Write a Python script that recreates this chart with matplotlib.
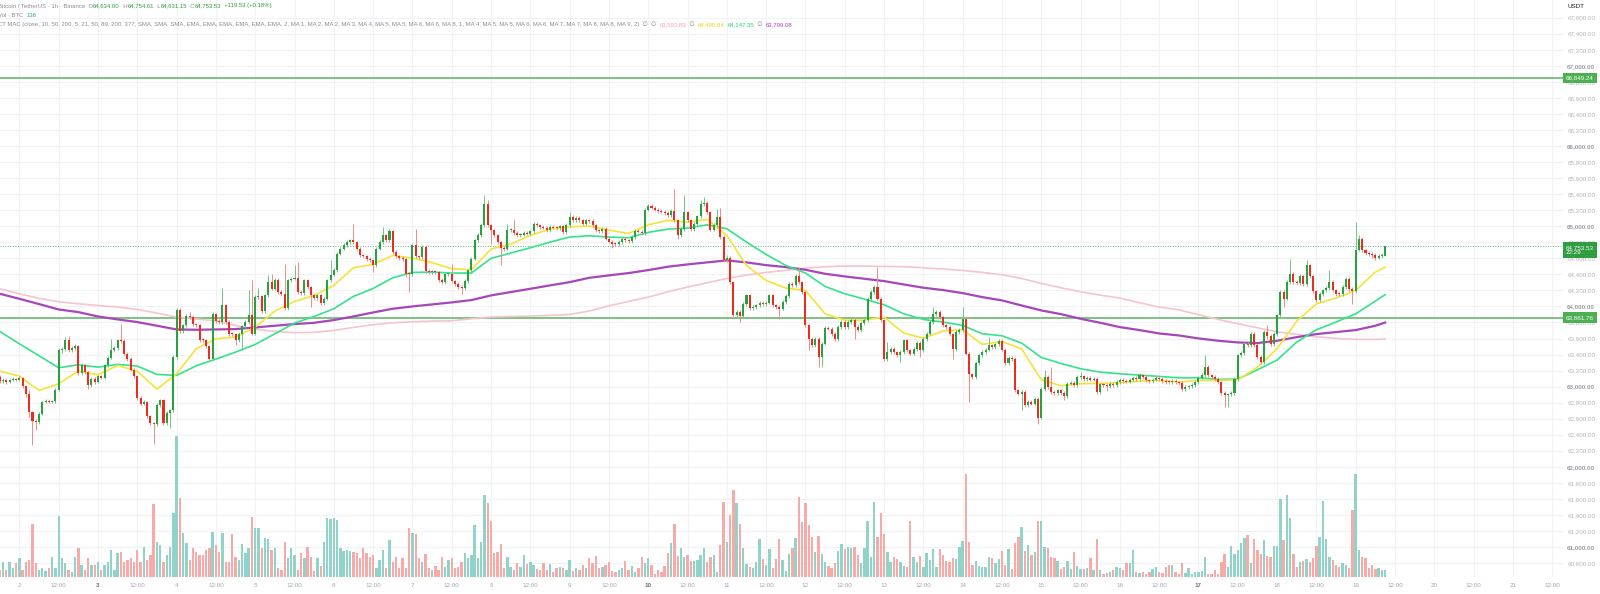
import matplotlib
matplotlib.use("Agg")
import matplotlib.pyplot as plt
import matplotlib.transforms as mtransforms
import numpy as np

plt.rcParams['font.family'] = ['Liberation Sans', 'DejaVu Sans']

# BTC/USDT 1h, hours counted from the 2nd 00:00 (first candle = 1st 18:00)
first_hour = -6
first_open = 63119

close = [
    63069, 63085, 63052, 63077, 63094, 63081,
    63110, 63002, 62903, 62682, 62570, 62558, 62661, 62803, 62824, 62807, 62815, 62961,
    63451, 63468, 63576, 63451, 63484, 63501, 63169, 63264, 63181, 63015, 63098, 63056,
    63127, 63110, 63264, 63360, 63451, 63480, 63576, 63568, 63410, 63347, 63210, 63127,
    62857, 62786, 62807, 62628, 62545, 62532, 62765, 62828, 62545, 62670, 62703, 63368,
    63958, 63692, 63763, 63875, 63867, 63775, 63763, 63584, 63576, 63501, 63347, 63900,
    63817, 63805, 64012, 63805, 63659, 63651, 63576, 63659, 63750, 63805, 63888, 63659,
    64116, 64125, 63942, 64137, 64303, 64220, 64333, 64179, 64158, 63983, 64324, 64345,
    64357, 64179, 64166, 64324, 64241, 64137, 64108, 64137, 64042, 64096, 64324, 64395,
    64457, 64657, 64719, 64761, 64802, 64823, 64802, 64719, 64636, 64623, 64594, 64574,
    64511, 64719, 64802, 64885, 64823, 64939, 64678, 64623, 64607, 64590, 64407, 64399,
    64761, 64623, 64615, 64740, 64441, 64424, 64432, 64424, 64333, 64303, 64399, 64407,
    64312, 64283, 64241, 64233, 64316, 64449, 64594, 64823, 64885, 65010, 65280, 65010,
    64948, 64885, 64802, 64732, 64719, 64948, 64956, 64914, 64885, 64894, 64914, 64906,
    64935, 65031, 65010, 64989, 64981, 64948, 64989, 64981, 64973, 64998, 64927, 65010,
    65114, 65072, 65106, 65072, 65031, 65072, 65064, 65010, 64948, 64939, 64964, 64844,
    64806, 64781, 64773, 64802, 64844, 64823, 64811, 64865, 64939, 64931, 64914, 65205,
    65255, 65230, 65205, 65193, 65180, 65164, 65135, 65189, 65072, 64885, 64964, 65172,
    65072, 64969, 65031, 65122, 65280, 65293, 65176, 64956, 65010, 65114, 64865, 64574,
    64607, 64303, 63888, 63929, 63875, 64033, 64137, 63983, 63992, 64012, 64042, 64033,
    64046, 64137, 64012, 63992, 63971, 64054, 64125, 64283, 64262, 64374, 64303, 64179,
    63763, 63597, 63514, 63597, 63368, 63534, 63734, 63721, 63659, 63597, 63742, 63805,
    63742, 63805, 63834, 63742, 63701, 63792, 63825, 64095, 64179, 64241, 64095, 63825,
    63347, 63430, 63472, 63430, 63389, 63430, 63576, 63451, 63410, 63472, 63543, 63451,
    63597, 63659, 63805, 63908, 63929, 63867, 63763, 63742, 63651, 63472, 63680, 63701,
    63846, 63410, 63152, 63119, 63293, 63389, 63430, 63460, 63514, 63493, 63526, 63568,
    63460, 63293, 63360, 63347, 62952, 62911, 62932, 62765, 62807, 62786, 62848, 62611,
    62973, 63119, 62994, 62932, 62919, 62952, 62919, 62878, 63036, 63044, 63015, 63119,
    63127, 63098, 63110, 63085, 63098, 62932, 63027, 63015, 63002, 63036, 63015, 63056,
    63085, 63069, 63060, 63085, 63110, 63098, 63140, 63119, 63077, 63069, 63085, 63110,
    63094, 63069, 63056, 63052, 63069, 63052, 63044, 62973, 62994, 63002, 63015, 63056,
    63110, 63140, 63243, 63140, 63119, 63098, 63056, 62919, 62890, 62903, 62919, 63098,
    63389, 63418, 63534, 63514, 63659, 63514, 63368, 63306, 63680, 63626, 63534, 63659,
    63888, 64179, 64095, 64303, 64407, 64303, 64291, 64374, 64283, 64511, 64374, 64191,
    64075, 64158, 64199, 64233, 64303, 64199, 64158, 64150, 64241, 64345, 64220, 64191,
    64707, 64844, 64698, 64665, 64657, 64636, 64607, 64623, 64634, 64753.53,
]

high = [
    63140, 63105, 63100, 63095, 63115, 63110,
    63130, 63125, 63015, 62952, 62700, 62600, 62680, 62820, 62848, 62840, 62835, 62980,
    63480, 63490, 63617, 63626, 63510, 63530, 63520, 63290, 63280, 63200, 63120, 63120,
    63150, 63150, 63285, 63385, 63597, 63505, 63600, 63775, 63590, 63430, 63365, 63230,
    63145, 62880, 62830, 62825, 62650, 62565, 62790, 62850, 62845, 62690, 62725, 63390,
    63983, 63975, 63785, 63900, 63925, 63890, 63795, 63780, 63605, 63595, 63520, 63925,
    63920, 63840, 64233, 64030, 63825, 63680, 63670, 63680, 63770, 63825, 64199, 64324,
    64140, 64233, 64145, 64160, 64387, 64407, 64355, 64350, 64200, 64532, 64345, 64370,
    64511, 64553, 64200, 64345, 64345, 64260, 64160, 64160, 64160, 64120, 64345, 64574,
    64480, 64680, 64745, 64785, 64831, 64845, 65022, 64820, 64740, 64655, 64640, 64615,
    64590, 64740, 64825, 64989, 64905, 64960, 64956, 64700, 64645, 64630, 64610, 64430,
    64785, 64969, 64645, 64765, 64760, 64465, 64455, 64455, 64445, 64355, 64420, 64430,
    64532, 64335, 64305, 64265, 64340, 64470, 64615, 64845, 64910, 65035, 65384, 65330,
    65030, 64970, 64905, 64820, 64755, 65031, 64980, 65093, 64935, 64915, 64935, 64935,
    64955, 65055, 65050, 65030, 65010, 65000, 65010, 65010, 65000, 65020, 65020, 65035,
    65176, 65135, 65130, 65125, 65095, 65095, 65095, 65085, 65030, 64970, 64985, 64985,
    64865, 64825, 64800, 64825, 64865, 64865, 64845, 64885, 64960, 64960, 64950, 65230,
    65280, 65275, 65250, 65225, 65210, 65200, 65185, 65210, 65467, 65090, 64985, 65384,
    65195, 65095, 65055, 65145, 65330, 65363, 65315, 65195, 65035, 65218, 65230, 64885,
    64640, 64625, 64320, 63955, 63950, 64055, 64160, 64155, 64015, 64035, 64065, 64065,
    64070, 64160, 64155, 64035, 64015, 64075, 64150, 64305, 64305, 64400, 64490, 64320,
    64195, 63785, 63620, 63620, 63615, 63555, 63755, 63760, 63740, 63680, 63765, 63830,
    63830, 63830, 63860, 63855, 63765, 63815, 63850, 64120, 64200, 64265, 64490, 64115,
    63845, 63555, 63495, 63495, 63450, 63455, 63600, 63595, 63470, 63495, 63565, 63565,
    63620, 63680, 63830, 63992, 63955, 63950, 63885, 63785, 63765, 63670, 63700, 63725,
    63992, 63865, 63430, 63175, 63315, 63410, 63455, 63485, 63617, 63535, 63550, 63590,
    63590, 63480, 63385, 63385, 63365, 62975, 62955, 62955, 62830, 62830, 62870, 62870,
    62995, 63202, 63140, 63243, 62955, 62975, 62975, 62940, 63060, 63070, 63065, 63140,
    63181, 63150, 63135, 63135, 63120, 63120, 63050, 63050, 63035, 63060, 63060, 63080,
    63110, 63105, 63090, 63105, 63135, 63130, 63165, 63160, 63140, 63100, 63105, 63135,
    63130, 63115, 63090, 63080, 63090, 63090, 63075, 63065, 63015, 63025, 63040, 63080,
    63135, 63165, 63389, 63265, 63160, 63140, 63120, 63075, 62940, 62925, 62945, 63120,
    63410, 63445, 63560, 63560, 63680, 63680, 63535, 63390, 63705, 63763, 63650, 63680,
    63910, 64200, 64200, 64325, 64594, 64430, 64325, 64400, 64395, 64574, 64530, 64395,
    64210, 64180, 64220, 64255, 64449, 64325, 64220, 64180, 64265, 64370, 64365, 64240,
    65052, 64885, 64865, 64720, 64690, 64680, 64660, 64650, 64660, 64754.61,
]

low = [
    63050, 63050, 63035, 63040, 63065, 63065,
    63070, 62985, 62869, 62620, 62267, 62454, 62530, 62640, 62790, 62790, 62790, 62800,
    62940, 63420, 63450, 63430, 63430, 63460, 63150, 63150, 63160, 62973, 63000, 63035,
    63040, 63090, 63095, 63245, 63340, 63430, 63460, 63545, 63390, 63325, 63190, 63105,
    62835, 62765, 62765, 62605, 62520, 62287, 62510, 62745, 62525, 62520, 62480, 62680,
    63340, 63670, 63670, 63745, 63845, 63755, 63740, 63560, 63555, 63480, 63325, 63330,
    63795, 63780, 63785, 63785, 63635, 63630, 63513, 63555, 63451, 63730, 63785, 63640,
    63640, 64095, 63920, 63920, 64115, 64200, 64200, 64160, 64135, 63960, 63960, 64300,
    64330, 64160, 64145, 64145, 64220, 63992, 64085, 64085, 64012, 64020, 64075, 64300,
    64375, 64435, 64635, 64700, 64740, 64780, 64780, 64700, 64615, 64600, 64570, 64550,
    64428, 64490, 64700, 64780, 64800, 64800, 64655, 64600, 64585, 64570, 64366, 64179,
    64380, 64600, 64595, 64595, 64420, 64400, 64405, 64400, 64310, 64280, 64280, 64380,
    64290, 64260, 64220, 64158, 64210, 64295, 64430, 64575, 64800, 64865, 64990, 64990,
    64781, 64865, 64780, 64511, 64695, 64700, 64925, 64895, 64865, 64865, 64875, 64885,
    64885, 64915, 64990, 64970, 64960, 64925, 64930, 64960, 64950, 64955, 64905, 64905,
    64990, 65050, 65050, 65050, 65010, 65010, 65040, 64990, 64925, 64915, 64915, 64825,
    64785, 64732, 64750, 64750, 64780, 64800, 64790, 64790, 64845, 64910, 64890, 64895,
    65185, 65210, 65185, 65170, 65160, 65140, 65115, 65115, 65050, 64844, 64865, 64945,
    65050, 64945, 64945, 65010, 65100, 65255, 65155, 64935, 64935, 64990, 64845, 64550,
    64550, 64280, 63865, 63865, 63804, 63855, 64010, 63960, 63960, 63970, 63990, 64010,
    64010, 64025, 63990, 63970, 63846, 63950, 64035, 64105, 64240, 64240, 64280, 64155,
    63740, 63451, 63490, 63490, 63243, 63243, 63515, 63700, 63635, 63575, 63575, 63720,
    63720, 63720, 63785, 63597, 63680, 63680, 63770, 63805, 64075, 64160, 64075, 63805,
    63325, 63325, 63410, 63410, 63365, 63306, 63410, 63430, 63390, 63390, 63450, 63368,
    63430, 63575, 63640, 63785, 63885, 63845, 63740, 63720, 63630, 63347, 63450, 63660,
    63680, 63390, 62807, 63095, 63095, 63270, 63365, 63410, 63440, 63470, 63470, 63505,
    63440, 63270, 63270, 63325, 62930, 62890, 62703, 62745, 62745, 62765, 62765, 62537,
    62590, 62950, 62975, 62910, 62895, 62895, 62895, 62830, 62855, 63015, 62995, 62995,
    63100, 63075, 63075, 63065, 63065, 62910, 62910, 62995, 62940, 62980, 62995, 62995,
    63035, 63045, 63040, 63040, 63065, 63075, 63075, 63095, 63055, 63045, 63045, 63065,
    63070, 63045, 63035, 63030, 63030, 63030, 63020, 62950, 62950, 62975, 62980, 62995,
    63035, 63090, 63120, 63120, 63095, 63075, 63035, 62895, 62745, 62745, 62880, 62900,
    63075, 63365, 63395, 63490, 63490, 63490, 63345, 63280, 63285, 63600, 63510, 63510,
    63635, 63865, 63992, 64075, 64280, 64280, 64265, 64270, 64260, 64260, 64350, 64170,
    64050, 64050, 64135, 64175, 64210, 64175, 64135, 64125, 64125, 64220, 64195, 64033,
    64170, 64685, 64675, 64640, 64630, 64610, 64585, 64590, 64600, 64631.15,
]

# volume in BTC
volume = [
    140, 300, 140, 300, 180, 280,
    380, 140, 300, 340, 1060, 280, 140, 180, 120, 180, 400, 180,
    1220, 380, 280, 140, 100, 400, 580, 240, 140, 380, 240, 240,
    300, 140, 240, 300, 540, 140, 480, 500, 300, 340, 380, 300,
    540, 300, 600, 340, 440, 1460, 700, 640, 300, 440, 600, 1280,
    2820, 1580, 880, 680, 340, 580, 500, 440, 440, 540, 580, 900,
    640, 500, 880, 300, 300, 860, 400, 340, 660, 480, 580, 1200,
    980, 980, 580, 780, 760, 540, 580, 180, 140, 700, 380, 580,
    440, 140, 480, 380, 600, 400, 120, 380, 220, 700, 1180, 1160,
    1180, 1140, 580, 520, 540, 520, 500, 480, 380, 580, 480, 400,
    440, 180, 340, 540, 180, 740, 300, 400, 180, 380, 180, 980,
    880, 860, 380, 300, 460, 180, 140, 220, 140, 400, 200, 340,
    380, 180, 200, 300, 480, 380, 440, 1040, 380, 700, 1640, 1480,
    1120, 480, 500, 660, 180, 400, 200, 140, 280, 200, 440, 260,
    300, 240, 160, 140, 280, 140, 260, 100, 180, 200, 180, 140,
    340, 120, 180, 140, 240, 180, 380, 280, 420, 180, 200, 240,
    300, 120, 100, 140, 180, 320, 140, 220, 100, 180, 400, 280,
    380, 240, 60, 140, 100, 220, 480, 680, 1060, 420, 580, 400,
    440, 320, 320, 340, 440, 580, 300, 400, 440, 100, 640, 1500,
    700, 1240, 1740, 1480, 1060, 580, 260, 200, 180, 300, 760, 360,
    240, 560, 180, 360, 760, 340, 120, 460, 580, 780, 1600, 1100,
    1480, 1040, 800, 500, 820, 460, 300, 220, 180, 280, 520, 660,
    560, 600, 580, 600, 440, 280, 580, 1120, 400, 1500, 800, 1280,
    860, 500, 300, 400, 360, 300, 220, 200, 1120, 400, 300, 420,
    200, 480, 340, 560, 200, 560, 440, 320, 300, 380, 360, 600,
    720, 2060, 700, 240, 320, 220, 200, 200, 400, 380, 280, 360,
    520, 240, 560, 160, 680, 800, 1000, 520, 640, 440, 500, 1120,
    1120, 600, 580, 400, 380, 320, 160, 200, 320, 160, 500, 220,
    160, 160, 180, 380, 140, 760, 140, 60, 80, 100, 140, 200,
    180, 140, 280, 280, 540, 100, 80, 100, 60, 100, 160, 200,
    100, 80, 200, 240, 240, 100, 60, 280, 80, 180, 60, 100,
    100, 120, 400, 60, 60, 140, 60, 300, 460, 200, 620, 460,
    540, 680, 780, 840, 280, 760, 540, 460, 740, 420, 400, 620,
    620, 1560, 740, 1640, 1180, 460, 200, 300, 320, 360, 300, 380,
    620, 800, 1520, 760, 400, 340, 240, 200, 280, 240, 180, 1340,
    2060, 540, 400, 380, 180, 240, 160, 180, 140, 136,
]

# moving averages, read every 6 hours
ma_hours = list(range(-6, 415, 6)) + [417]
ma_yellow = [
    63193, 63131, 62952, 63036, 63193, 63148, 63264, 63193, 62969, 63160, 63472, 63597,
    63617, 63742, 63942, 64062, 64137, 64262, 64482, 64524, 64636, 64603, 64545, 64470,
    64457, 64715, 64777, 64885, 64964, 64993, 65002, 64952, 64910, 65018, 65072, 65052,
    65085, 64885, 64511, 64324, 64229, 64199, 63908, 63829, 63829, 63867, 63667, 63605,
    63692, 63709, 63526, 63563, 63472, 63085, 63011, 63036, 63040, 63048, 63069, 63077,
    63056, 63077, 63077, 63085, 63243, 63472, 63817, 64033, 64104, 64199, 64428, 64490.84,
]
ma_green = [
    63688, 63534, 63385, 63235, 63272, 63243, 63277, 63256, 63152, 63140, 63260, 63343,
    63430, 63526, 63659, 63792, 63875, 63971, 64125, 64224, 64357, 64424, 64428, 64416,
    64416, 64599, 64665, 64732, 64802, 64865, 64881, 64865, 64856, 64923, 64964, 64977,
    65018, 64969, 64802, 64648, 64511, 64416, 64249, 64158, 64091, 64021, 63908, 63838,
    63805, 63763, 63659, 63634, 63543, 63364, 63289, 63223, 63181, 63160, 63144, 63127,
    63110, 63110, 63090, 63094, 63210, 63331, 63555, 63709, 63805, 63908, 64066, 64147.35,
]
ma_purple = [
    64158, 64095, 64029, 63962, 63929, 63875, 63838, 63805, 63759, 63713, 63709, 63713,
    63717, 63738, 63759, 63780, 63796, 63830, 63875, 63925, 63971, 64000, 64025, 64050,
    64079, 64137, 64179, 64220, 64262, 64303, 64357, 64387, 64416, 64453, 64495, 64524,
    64549, 64574, 64549, 64515, 64490, 64457, 64407, 64374, 64345, 64316, 64274, 64233,
    64204, 64166, 64116, 64075, 64012, 63950, 63904, 63846, 63796, 63742, 63705, 63663,
    63638, 63601, 63572, 63551, 63543, 63572, 63617, 63655, 63680, 63705, 63759, 63799.08,
]
ma_pink = [
    64220, 64158, 64100, 64058, 64033, 64012, 63992, 63962, 63917, 63867, 63842, 63821,
    63763, 63717, 63688, 63672, 63676, 63701, 63738, 63771, 63796, 63809, 63817, 63821,
    63846, 63867, 63875, 63879, 63888, 63900, 63942, 64008, 64062, 64116, 64183, 64241,
    64295, 64349, 64391, 64424, 64449, 64478, 64495, 64503, 64503, 64499, 64495, 64482,
    64466, 64449, 64424, 64395, 64349, 64287, 64233, 64183, 64141, 64104, 64046, 63992,
    63958, 63896, 63838, 63784, 63734, 63684, 63651, 63622, 63601, 63588, 63588, 63593.89,
]

levels = [66849.24, 63861.76]
last_price = 64753.53
countdown = "22:29"
price_ticks = list(range(60800, 67601, 200))
bold_days = [3, 10, 17]

assert len(close) == len(high) == len(low) == len(volume)
assert len(ma_hours) == len(ma_yellow) == len(ma_green) == len(ma_purple) == len(ma_pink)

UP, DOWN = '#26a23f', '#ef2b1f'
UP_WICK, DOWN_WICK = '#74c484', '#f48a84'
VOL_UP, VOL_DOWN = '#92d3c9', '#f7aaa8'
GRID = '#f1f2f4'
FS = 4.5      # scale labels
FS_HEAD = 4.35  # legend rows

W, H = 1600, 594
fig = plt.figure(figsize=(W / 100, H / 100), dpi=100, facecolor='white')
rect = [0, 17 / H, 1563 / W, 577 / H]
ax = fig.add_axes(rect)
ax_vol = fig.add_axes(rect, sharex=ax)
ax_vol.patch.set_visible(False)
ax_vol.axis('off')

hours = np.arange(first_hour, first_hour + len(close))
c = np.array(close, dtype=float)
o = np.array([first_open] + close[:-1], dtype=float)
up = c >= o

# volume (own axis, bottom of the pane)
ax_vol.bar(hours, volume, width=0.72, color=np.where(up, VOL_UP, VOL_DOWN), linewidth=0)
ax_vol.set_ylim(0, max(volume) * 577 / 141)

# candles
ax.vlines(hours, low, high, colors=np.where(up, UP_WICK, DOWN_WICK), linewidth=0.7, zorder=3)
body = np.maximum(np.abs(c - o), 12)
ax.bar(hours, body, bottom=np.minimum(o, c), width=0.62,
       color=np.where(up, UP, DOWN), linewidth=0, zorder=4)

# moving averages
ax.plot(ma_hours, ma_pink, color='#f6c4cd', lw=1.2, zorder=2)
ax.plot(ma_hours, ma_purple, color='#a547b8', lw=1.6, zorder=2)
ax.plot(ma_hours, ma_green, color='#34e38b', lw=1.2, zorder=2)
ax.plot(ma_hours, ma_yellow, color='#f5e33a', lw=1.2, zorder=2)

for lv in levels:
    ax.axhline(lv, color='#7cc381', lw=1.4, zorder=1)
ax.axhline(last_price, color='#3aa552', lw=0.6, ls=(0, (1, 2)), zorder=1)

ax.set_xlim(-5.92, 471.3)
ax.set_ylim(60626, 67821)

# axes look
for s in ax.spines.values():
    s.set_visible(False)
ax.set_facecolor('white')
ax.grid(True, color=GRID, lw=0.8, zorder=0)
ax.set_axisbelow(True)

xt = list(range(0, 469, 12))
xl = [str(2 + t // 24) if t % 24 == 0 else '12:00' for t in xt]
ax.set_xticks(xt)
ax.set_xticklabels(xl)
ax.tick_params(axis='x', length=0, pad=4.6, labelsize=FS, labelcolor='#a3a6ae')
for lab in ax.get_xticklabels():
    if lab.get_text() in [str(d) for d in bold_days]:
        lab.set_fontweight('bold')
        lab.set_color('#6f727b')

ax.yaxis.tick_right()
ax.set_yticks(price_ticks)
ax.set_yticklabels([f"{p:,.2f}" for p in price_ticks])
ax.tick_params(axis='y', length=0, pad=3, labelsize=FS, labelcolor='#b4b6bd')
for p, lab in zip(price_ticks, ax.get_yticklabels()):
    if p % 1000 == 0:
        lab.set_fontweight('bold')
        lab.set_color('#9a9ca4')

# price tags on the scale
tag_tr = mtransforms.blended_transform_factory(ax.transAxes, ax.transData)
tag_tr = mtransforms.offset_copy(tag_tr, fig=fig, x=3, y=0, units='dots')
for lv in levels:
    ax.text(1.0, lv, f"{lv:,.2f}", transform=tag_tr, ha='left', va='center',
            fontsize=FS, color='white', clip_on=False, zorder=10,
            bbox=dict(boxstyle='square,pad=0.45', fc='#4caf50', ec='none'))
cur_tr = mtransforms.offset_copy(tag_tr, fig=fig, x=0, y=-4, units='dots')
ax.text(1.0, last_price, f"{last_price:,.2f}\n{countdown}", transform=cur_tr,
        ha='left', va='center', fontsize=FS, color='white', linespacing=1.1,
        clip_on=False, zorder=10,
        bbox=dict(boxstyle='square,pad=0.45', fc='#2f9e41', ec='none'))

fig.text(1568 / W, 1 - 6 / H, "USDT", fontsize=FS, color='#131722', va='center', ha='left')

# legend rows top-left
GRAY, VAL = '#8b8e97', '#2f9e3f'


def row(y_px, pieces):
    prev = ax_vol.annotate(pieces[0][0], xy=(-2 / W, 1 - y_px / H), xycoords='figure fraction',
                           fontsize=FS_HEAD, color=pieces[0][1], va='center', ha='left',
                           annotation_clip=False, zorder=20)
    for text, col in pieces[1:]:
        prev = ax_vol.annotate(text, xy=(1, 0), xycoords=prev, fontsize=FS_HEAD, color=col,
                               va='bottom', ha='left', annotation_clip=False, zorder=20)


row(6, [("Bitcoin / TetherUS · 1h · Binance  O", GRAY), ("64,634.00", VAL),
        ("  H", GRAY), ("64,754.61", VAL), ("  L", GRAY), ("64,631.15", VAL),
        ("  C", GRAY), ("64,753.53", VAL), ("  +119.53 (+0.18%)", VAL)])
row(15.5, [("Vol · BTC  ", GRAY), ("136", '#26a69a')])
row(24.5, [("CT MAC (close, 10, 50, 200, 5, 21, 50, 89, 200, 377, SMA, SMA, SMA, EMA, EMA, EMA, "
            "EMA, EMA, EMA, 2, MA 1, MA 2, MA 2, MA 3, MA 4, MA 5, MA 5, MA 6, MA 6, MA 8, 1, "
            "MA 4, MA 5, MA 5, MA 6, MA 6, MA 7, MA 7, MA 8, MA 8, MA 9, 2)  ∅  ∅  ", GRAY),
           ("63,593.89", '#f7a3b2'), ("  ∅  ", GRAY), ("64,490.84", '#e6d617'), ("  ", GRAY),
           ("64,147.35", '#22d47a'), ("  ∅  ", GRAY), ("63,799.08", '#b23fc2')])

fig.savefig("out.png", dpi=100, facecolor='white')
